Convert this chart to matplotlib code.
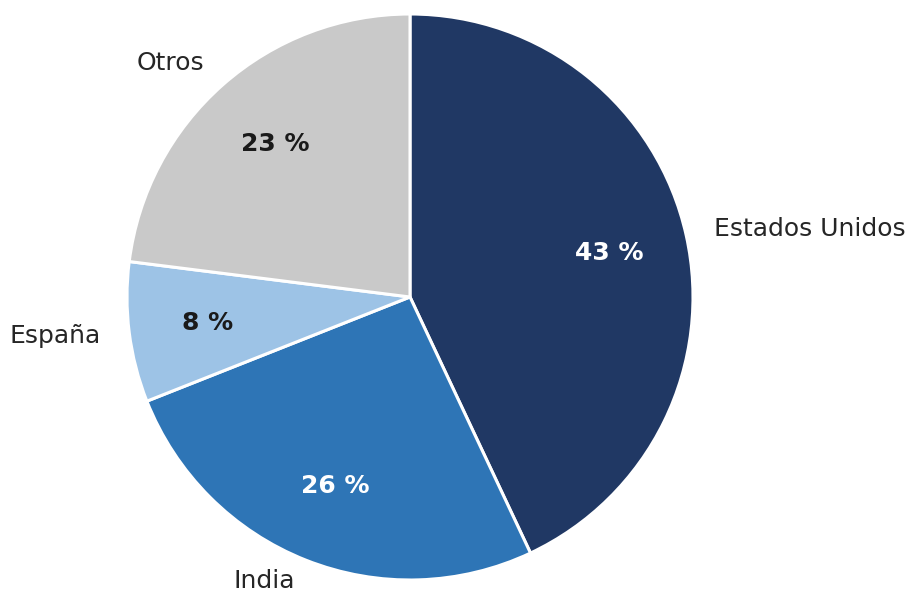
import matplotlib
matplotlib.use("Agg")
import matplotlib.pyplot as plt

categories = ["Estados Unidos", "India", "España", "Otros"]
values = [43, 26, 8, 23]
colors = ["#203864", "#2e75b6", "#9dc3e6", "#c9c9c9"]
pct_colors = ["white", "white", "#1a1a1a", "#1a1a1a"]

W, H = 907, 595
fig = plt.figure(figsize=(W / 100, H / 100), dpi=100)
cx, cy, r = 410, 297, 283
ax = fig.add_axes([(cx - r) / W, (H - cy - r) / H, 2 * r / W, 2 * r / H])

wedges, texts, autotexts = ax.pie(
    values, labels=categories, colors=colors, startangle=90, counterclock=False,
    autopct=lambda p: f"{p:.0f} %", pctdistance=0.72, labeldistance=1.1,
    wedgeprops=dict(edgecolor="white", linewidth=2.2),
    textprops=dict(fontsize=18, color="#262626"),
)
for t, c in zip(autotexts, pct_colors):
    t.set_color(c)
    t.set_fontweight("bold")
# keep the bottom label inside the canvas
x, y = texts[1].get_position()
texts[1].set_position((x, y + 5 / r))
ax.set_xlim(-1, 1)
ax.set_ylim(-1, 1)
ax.axis("off")
fig.savefig("out.png", dpi=100)
